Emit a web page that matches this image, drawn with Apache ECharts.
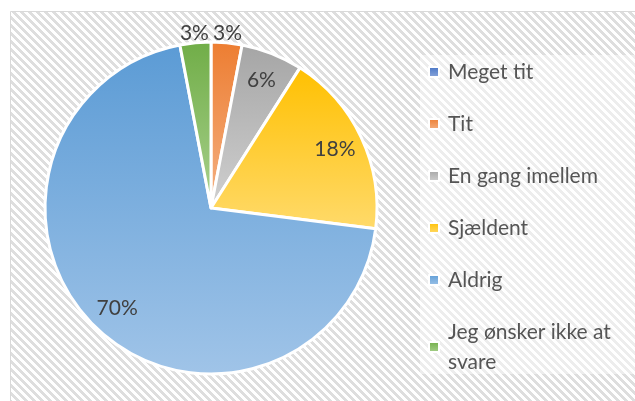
<!DOCTYPE html>
<html>
<head>
<meta charset="utf-8">
<script src="https://cdn.jsdelivr.net/npm/echarts@6/dist/echarts.min.js"></script>
<style>
html,body{margin:0;padding:0;background:#fff;}
#chart{width:635px;height:401px;}
</style>
</head>
<body>
<div id="chart"></div>
<script>
const categories = ['Meget tit', 'Tit', 'En gang imellem', 'Sjældent', 'Aldrig', 'Jeg ønsker ikke at svare'];
const values = [0, 3, 6, 18, 70, 3];
const insideLabelNames = ['En gang imellem', 'Sjældent', 'Aldrig'];
const outsideLabelNames = ['Tit', 'Jeg ønsker ikke at svare'];

const topColors = ['#4472C4', '#ED7D31', '#A5A5A5', '#FFC000', '#5B9BD5', '#70AD47'];
const bottomColors = ['#8FAADC', '#F4B183', '#D0D0D0', '#FFDA6B', '#A0C4E8', '#A9D18E'];

function grad(i) {
  return new echarts.graphic.LinearGradient(0, 0, 0, 1, [
    { offset: 0, color: topColors[i] },
    { offset: 1, color: bottomColors[i] }
  ]);
}

// stripe pattern for the background
const pc = document.createElement('canvas');
pc.width = 8; pc.height = 8;
const pctx = pc.getContext('2d');
pctx.fillStyle = '#ffffff';
pctx.fillRect(0, 0, 8, 8);
pctx.fillStyle = '#dedede';
for (let x = 0; x < 8; x++) {
  for (let y = 0; y < 8; y++) {
    if (((x - y + 16) % 8) < 4) pctx.fillRect(x, y, 1, 1);
  }
}

const FONT = 'Lato';
const CX = 211, CY = 208, R = 166;

const chart = echarts.init(document.getElementById('chart'), null, { renderer: 'canvas' });

const mainData = categories.map((c, i) => ({
  name: c, value: values[i], itemStyle: { color: grad(i) }
}));
const labelFmt = p => Math.round(p.percent) + '%';
const hiddenData = (names) => categories.map((c, i) => ({
  name: c, value: values[i],
  label: { show: names.indexOf(c) >= 0 }
}));

const labelStyle = {
  position: 'inside', formatter: labelFmt,
  fontFamily: FONT, fontSize: 21, color: '#404040'
};

const option = {
  backgroundColor: '#ffffff',
  animation: false,
  graphic: [
    {
      type: 'rect', z: -10, silent: true,
      shape: { x: 10.5, y: 11.5, width: 640, height: 400 },
      style: { fill: { image: pc, repeat: 'repeat' }, stroke: '#d9d9d9', lineWidth: 1 }
    },
    {
      type: 'rect', z: -9, silent: true,
      shape: { x: 420, y: 55, width: 215, height: 319 },
      style: { fill: 'rgba(255,255,255,0.45)' }
    }
  ],
  legend: [
    {
      orient: 'vertical', left: 428, top: 60, padding: 0,
      icon: 'rect', itemWidth: 10, itemHeight: 10, itemGap: 28,
      selectedMode: false,
      textStyle: { fontFamily: FONT, fontSize: 21, color: '#555555', lineHeight: 24, padding: [0, 0, 0, 4] },
      data: categories.slice(0, 5).map((c, i) => ({ name: c, itemStyle: { color: grad(i) } }))
    },
    {
      orient: 'vertical', left: 428, top: 302, padding: 0,
      icon: 'rect', itemWidth: 10, itemHeight: 10,
      selectedMode: false,
      textStyle: { fontFamily: FONT, fontSize: 21, color: '#555555', lineHeight: 30,
        width: 186, overflow: 'break', padding: [30, 0, 0, 4] },
      data: [{ name: categories[5], itemStyle: { color: grad(5) } }]
    }
  ],
  series: [
    {
      type: 'pie', center: [CX, CY], radius: [0, R], startAngle: 90, clockwise: true,
      avoidLabelOverlap: false, silent: true,
      label: { show: false }, labelLine: { show: false },
      itemStyle: { borderColor: '#ffffff', borderWidth: 3 },
      emphasis: { disabled: true },
      data: mainData
    },
    {
      type: 'pie', center: [CX, CY], radius: [0, 268], startAngle: 90, clockwise: true,
      avoidLabelOverlap: false, silent: true, z: 5,
      itemStyle: { color: 'rgba(0,0,0,0)', borderWidth: 0 },
      label: labelStyle, labelLine: { show: false },
      emphasis: { disabled: true },
      data: hiddenData(insideLabelNames)
    },
    {
      type: 'pie', center: [CX, CY], radius: [0, 346], startAngle: 90, clockwise: true,
      avoidLabelOverlap: false, silent: true, z: 5,
      itemStyle: { color: 'rgba(0,0,0,0)', borderWidth: 0 },
      label: labelStyle, labelLine: { show: false },
      emphasis: { disabled: true },
      data: hiddenData(outsideLabelNames)
    }
  ]
};
chart.setOption(option);
</script>
</body>
</html>
